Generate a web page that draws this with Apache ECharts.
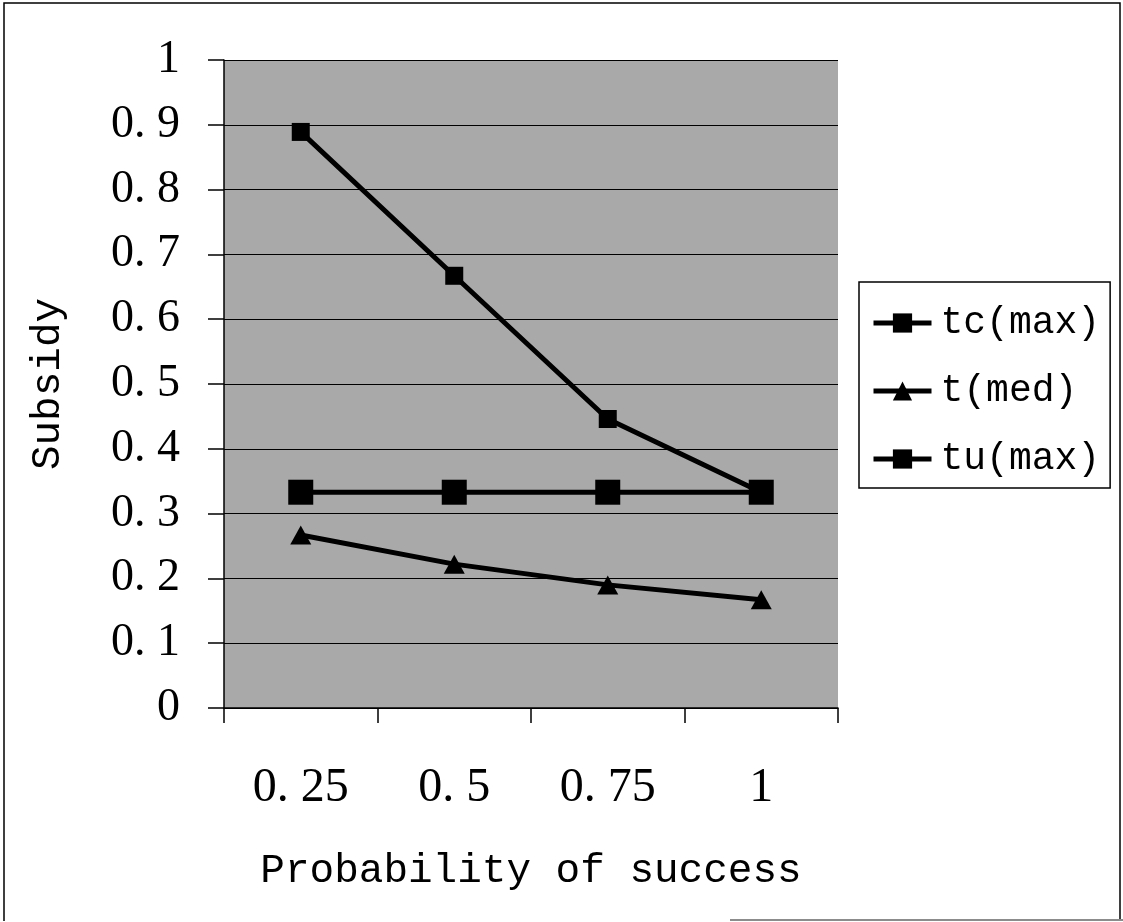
<!DOCTYPE html>
<html>
<head>
<meta charset="utf-8">
<script src="https://cdn.jsdelivr.net/npm/echarts@6/dist/echarts.min.js"></script>
<style>
  html, body { margin: 0; padding: 0; background: #ffffff; }
  #chart { width: 1123px; height: 922px; }
</style>
</head>
<body>
<div id="chart"></div>
<script>
// Probability of success categories
const categories = ['0.25', '0.5', '0.75', '1'];

// Subsidy levels for each policy
const tcMax = [0.889, 0.667, 0.446, 0.333];
const tMed = [0.267, 0.222, 0.190, 0.167];
const tuMax = [0.333, 0.333, 0.333, 0.333];

// Value axis range
const yMin = 0;
const yMax = 1;
const yStep = 0.1;

const serif = '"Liberation Serif", "Times New Roman", serif';
const mono = '"Liberation Mono", "Courier New", monospace';

const chart = echarts.init(document.getElementById('chart'), null, { renderer: 'canvas' });

function lineSeries(name, data, symbol, size) {
  return {
    name: name,
    type: 'line',
    data: data,
    symbol: symbol,
    symbolSize: size,
    showAllSymbol: true,
    itemStyle: { color: '#000000', borderWidth: 0 },
    lineStyle: { color: '#000000', width: 5 },
    emphasis: { disabled: true },
    animation: false,
    z: 3
  };
}

chart.setOption({
  backgroundColor: '#ffffff',
  animation: false,
  grid: {
    left: 224,
    top: 60,
    width: 614,
    height: 648,
    show: true,
    backgroundColor: '#a9a9a9',
    borderWidth: 0
  },
  xAxis: {
    type: 'category',
    data: categories,
    boundaryGap: true,
    axisLine: { show: true, lineStyle: { color: '#000000', width: 1.5 } },
    axisTick: { show: true, alignWithLabel: false, length: 15, lineStyle: { color: '#000000', width: 1.5 } },
    axisLabel: {
      margin: 56,
      fontFamily: serif,
      fontSize: 48,
      color: '#000000',
      formatter: v => v.replace('.', '. ')
    },
    splitLine: { show: false },
    name: 'Probability of success',
    nameLocation: 'middle',
    nameGap: 143,
    nameTextStyle: { fontFamily: mono, fontSize: 41, color: '#000000' }
  },
  yAxis: {
    type: 'value',
    min: yMin,
    max: yMax,
    interval: yStep,
    axisLine: { show: true, lineStyle: { color: '#000000', width: 1.5 } },
    axisTick: { show: true, inside: false, length: 16, lineStyle: { color: '#000000', width: 1.5 } },
    axisLabel: {
      margin: 44,
      fontFamily: serif,
      fontSize: 46,
      color: '#000000',
      padding: [8, 0, 0, 0],
      formatter: v => String(Math.round(v * 10) / 10).replace('.', '. ')
    },
    splitLine: { show: true, lineStyle: { color: '#000000', width: 1.2 } },
    name: 'Subsidy',
    nameLocation: 'middle',
    nameRotate: 90,
    nameGap: 155,
    nameTextStyle: { fontFamily: mono, fontSize: 41, color: '#000000' }
  },
  legend: {
    orient: 'vertical',
    left: 859,
    top: 282,
    width: 258,
    padding: [22, 10, 10, 12],
    itemGap: 30,
    itemWidth: 58,
    itemHeight: 24,
    backgroundColor: '#ffffff',
    borderColor: '#000000',
    borderWidth: 1.5,
    borderRadius: 0,
    lineStyle: { width: 5, color: '#000000' },
    textStyle: { fontFamily: mono, fontSize: 38, color: '#000000', padding: [0, 0, 0, 4] },
    data: ['tc(max)', 't(med)', 'tu(max)']
  },
  graphic: [
    {
      type: 'polyline',
      shape: { points: [[4, 921], [4, 3], [1120, 3], [1120, 921]] },
      style: { stroke: '#000000', lineWidth: 1.5, fill: null },
      silent: true
    },
    {
      type: 'line',
      shape: { x1: 730, y1: 920, x2: 1123, y2: 920 },
      style: { stroke: '#8c8c8c', lineWidth: 2 },
      silent: true
    }
  ],
  series: [
    lineSeries('tc(max)', tcMax, 'rect', 18),
    lineSeries('t(med)', tMed, 'triangle', [21, 19]),
    lineSeries('tu(max)', tuMax, 'rect', 25)
  ]
});
</script>
</body>
</html>
